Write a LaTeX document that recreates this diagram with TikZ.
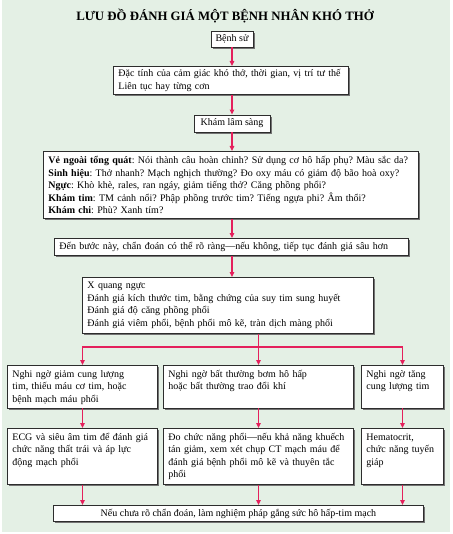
\documentclass[tikz,border=0pt]{standalone}
\usepackage{fontspec}
\setmainfont{Liberation Serif}
\usetikzlibrary{arrows.meta,shadows}
\frenchspacing
\definecolor{bggreen}{RGB}{228,240,229}
\definecolor{arrowred}{RGB}{228,32,92}
\definecolor{boxline}{RGB}{45,45,45}
\tikzset{
  box/.style={draw=boxline, line width=0.9pt, fill=white, inner xsep=5pt, inner ysep=4pt,
    font=\fontsize{10}{12.5}\selectfont\frenchspacing, align=left,
    drop shadow={shadow xshift=1.8pt, shadow yshift=-1.8pt, fill=black!55, opacity=1}},
  cbox/.style={box, align=center, inner xsep=4pt, inner ysep=3pt},
  topbox/.style={box, text height=8pt},
  arr/.style={draw=arrowred, line width=1.2pt, -{Triangle[length=5pt,width=4.5pt]}},
  ln/.style={draw=arrowred, line width=1.2pt}
}
\begin{document}
\begin{tikzpicture}[x=1pt,y=-1pt]
\useasboundingbox (0,0) rectangle (452,534);
\fill[bggreen] (2,0) rectangle (450,532);
\node[font=\bfseries\fontsize{12.8}{14}\selectfont] (title) at (225,16.5) {LƯU ĐỒ ĐÁNH GIÁ MỘT BỆNH NHÂN KHÓ THỞ};
\node[cbox, minimum width=42pt, minimum height=16pt] (b1) at (232,39) {Bệnh sử};
\node[box, anchor=north west, text width=225pt, minimum height=28pt, inner ysep=2pt] (b2) at (113,66)
  {Đặc tính của cảm giác khó thở, thời gian, vị trí tư thế\\Liên tục hay từng cơn};
\node[cbox, minimum width=76pt, minimum height=17pt] (b3) at (232,123.5) {Khám lâm sàng};
\node[box, anchor=north west, text width=365pt, minimum height=67pt] (b4) at (43,151)
  {\textbf{Vẻ ngoài tổng quát}: Nói thành câu hoàn chỉnh? Sử dụng cơ hô hấp phụ? Màu sắc da?\\
   \textbf{Sinh hiệu}: Thở nhanh? Mạch nghịch thường? Đo oxy máu có giảm độ bão hoà oxy?\\
   \textbf{Ngực}: Khò khè, rales, ran ngáy, giảm tiếng thở? Căng phồng phổi?\\
   \textbf{Khám tim}: TM cảnh nổi? Phập phồng trước tim? Tiếng ngựa phi? Âm thổi?\\
   \textbf{Khám chi}: Phù? Xanh tím?};
\node[box, anchor=north west, text width=344pt, minimum height=17pt, inner ysep=2pt] (b5) at (54,238)
  {Đến bước này, chẩn đoán có thể rõ ràng—nếu không, tiếp tục đánh giá sâu hơn};
\node[box, anchor=north west, text width=281pt, minimum height=56pt] (b6) at (82,277)
  {X quang ngực\\Đánh giá kích thước tim, bằng chứng của suy tim sung huyết\\Đánh giá độ căng phồng phổi\\Đánh giá viêm phổi, bệnh phổi mô kẽ, tràn dịch màng phổi};
\node[topbox, anchor=north west, text width=140pt, text depth=26.5pt] (r1a) at (7,365)
  {Nghi ngờ giảm cung lượng\\tim, thiếu máu cơ tim, hoặc\\bệnh mạch máu phổi};
\node[topbox, anchor=north west, text width=180pt, text depth=26.5pt] (r1b) at (163,365)
  {Nghi ngờ bất thường bơm hô hấp\\hoặc bất thường trao đổi khí};
\node[topbox, anchor=north west, text width=72pt, text depth=26.5pt] (r1c) at (361,365)
  {Nghi ngờ tăng\\cung lượng tim};
\node[topbox, anchor=north west, text width=140pt, text depth=40pt] (r2a) at (7,428)
  {ECG và siêu âm tim để đánh giá\\chức năng thất trái và áp lực\\động mạch phổi};
\node[topbox, anchor=north west, text width=180pt, text depth=40pt] (r2b) at (163,428)
  {Đo chức năng phổi—nếu khả năng khuếch\\tán giảm, xem xét chụp CT mạch máu để\\đánh giá bệnh phổi mô kẽ và thuyên tắc\\phổi};
\node[topbox, anchor=north west, text width=72pt, text depth=40pt] (r2c) at (361,428)
  {Hematocrit,\\chức năng tuyến\\giáp};
\node[box, align=center, anchor=north west, minimum width=370pt, minimum height=16pt, inner ysep=2pt] (fin) at (53,505)
  {Nếu chưa rõ chẩn đoán, làm nghiệm pháp gắng sức hô hấp-tim mạch};
% main trunk
\draw[arr] (b1.south) -- (b1.south |- b2.north);
\draw[arr] (b3.north |- b2.south) -- (b3.north);
\draw[arr] (b3.south) -- (b3.south |- b4.north);
\draw[arr] (b3.south |- b4.south) -- (b3.south |- b5.north);
\draw[arr] (b3.south |- b5.south) -- (b3.south |- b6.north);
% branch
\coordinate (br) at (r1b.north |- 0,347);
\draw[ln] (br |- b6.south) -- (br);
\draw[arr] (br) -| (r1a.north);
\draw[arr] (br) -| (r1c.north);
\draw[arr] (br |- b6.south) -- (r1b.north);
% rows
\draw[arr] (r1a.south) -- (r2a.north);
\draw[arr] (r1b.south) -- (r2b.north);
\draw[arr] (r1c.south) -- (r2c.north);
\draw[arr] (r2a.south) -- (r2a.south |- fin.north);
\draw[arr] (r2b.south) -- (r2b.south |- fin.north);
\draw[arr] (r2c.south) -- (r2c.south |- fin.north);
\end{tikzpicture}
\end{document}
